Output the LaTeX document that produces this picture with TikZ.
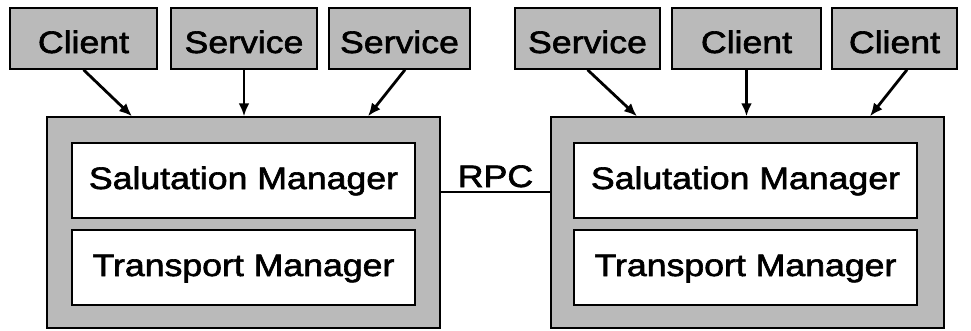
\documentclass[tikz,border=0pt]{standalone}
\usepackage{fontspec}
\setmainfont{Liberation Sans}[FakeStretch=1.15,FakeBold=2]
\usetikzlibrary{arrows.meta,calc}
\definecolor{boxgray}{gray}{0.73}
\tikzset{
  every node/.style={font=\fontsize{31}{37}\selectfont, inner sep=0pt},
  topbox/.style={draw=black, line width=1.5pt, fill=boxgray, minimum height=61pt,
    text height=29pt, text depth=0pt},
  hostbox/.style={draw=black, line width=1.5pt, fill=boxgray, minimum width=393pt, minimum height=211pt},
  layerbox/.style={draw=black, line width=1.5pt, fill=white, minimum width=343pt, minimum height=75pt,
    text height=17pt, text depth=0pt},
  feed/.style={line width=2.8pt, -{Latex[length=13pt,width=11pt]}},
  link/.style={line width=1.3pt}
}
\begin{document}
\begin{tikzpicture}[x=1pt,y=-1pt]
\useasboundingbox (0,0) rectangle (971,330);

% hosts with their manager layers
\node[hostbox] (L) at (243.5,222.5) {};
\node[hostbox] (R) at (747.5,222.5) {};
\node[layerbox] (Lsal) at (243.5,180.5) {Salutation Manager};
\node[layerbox] (Ltr)  at (243.5,267.5) {Transport Manager};
\node[layerbox] (Rsal) at (745.5,180.5) {Salutation Manager};
\node[layerbox] (Rtr)  at (745.5,267.5) {Transport Manager};

% clients and services attached to each host
\node[topbox, minimum width=147pt] (lc)  at (83.5,38.5)  {Client};
\node[topbox, minimum width=146pt] (ls1) at (244,38.5)   {Service};
\node[topbox, minimum width=141pt] (ls2) at (399.5,38.5) {Service};
\node[topbox, minimum width=145pt] (rs)  at (587.5,38.5) {Service};
\node[topbox, minimum width=149pt] (rc1) at (746.5,38.5) {Client};
\node[topbox, minimum width=125pt] (rc2) at (894.5,38.5) {Client};

\draw[feed] (lc.south) -- ([xshift=-111.5pt]L.north);
\draw[feed] (ls1.south) -- (ls1.south |- L.north);
\draw[feed] ([xshift=5.5pt]ls2.south) -- ([xshift=124.5pt]L.north);
\draw[feed] (rs.south) -- ([xshift=-110.5pt]R.north);
\draw[feed] (rc1.south) -- (rc1.south |- R.north);
\draw[feed] ([xshift=12.5pt]rc2.south) -- ([xshift=122.5pt]R.north);

% RPC link between the two hosts
\coordinate (rpcy) at (0,192);
\draw[link] (L.east |- rpcy) -- (R.west |- rpcy)
  node[pos=0.5, anchor=base, yshift=5pt] (rpc) {RPC};
\end{tikzpicture}
\end{document}
